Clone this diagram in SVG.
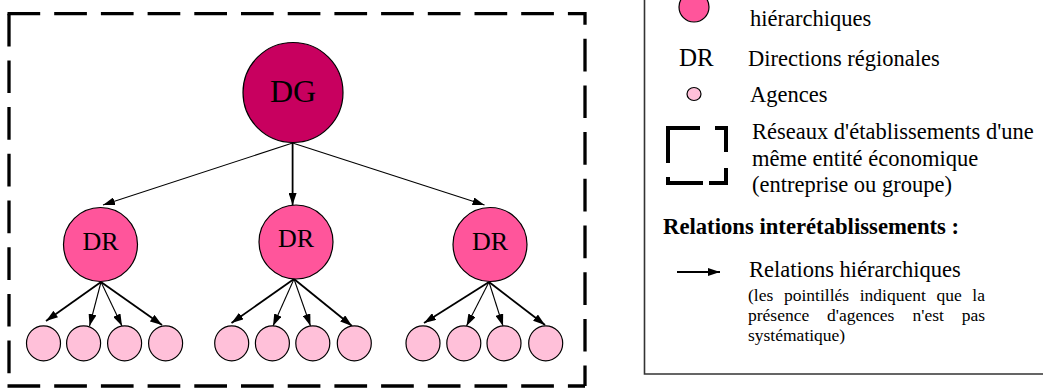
<svg xmlns="http://www.w3.org/2000/svg" width="1043" height="388" viewBox="0 0 1043 388">
<style>
text{font-family:"Liberation Serif","Times New Roman",serif;fill:#000}
.dg{fill:#C8005F;stroke:#000;stroke-width:1.2}
.dr{fill:#FF559B;stroke:#000;stroke-width:1.2}
.ag{fill:#FFC0D9;stroke:#000;stroke-width:1.2}
.bd{fill:none;stroke:#000;stroke-width:3.3;stroke-dasharray:32.7 14}
.c1{fill:none;stroke:#000;stroke-width:1.1}
.c2{fill:none;stroke:#000;stroke-width:1.8}
.lg{font-size:22.5px}
.sm{font-size:17.5px}
</style>
<defs>
<marker id="ah" viewBox="0 0 12 8" refX="12" refY="4" markerWidth="12" markerHeight="8" markerUnits="userSpaceOnUse" orient="auto">
<path d="M0,0 L12,4 L0,8 Z" fill="#000"/>
</marker>
</defs>

<g id="frame">
<path class="bd" d="M7.5,13.7 H585"/>
<path class="bd" d="M9,13.7 V386"/>
<path class="bd" d="M7.5,386 H585"/>
<path class="bd" d="M585,12 V386" style="stroke-dashoffset:20"/>
</g>

<g id="connectors">
<path class="c1" d="M292.6,143 L103,205" marker-end="url(#ah)"/>
<path class="c2" d="M292.6,143 L292.6,205" marker-end="url(#ah)"/>
<path class="c1" d="M292.6,143 L484.5,205" marker-end="url(#ah)"/>
<path class="c2" d="M101,282 L46,321" marker-end="url(#ah)"/>
<path class="c1" d="M101,282 L89.5,326" marker-end="url(#ah)"/>
<path class="c1" d="M101,282 L122,326" marker-end="url(#ah)"/>
<path class="c2" d="M101,282 L162,325" marker-end="url(#ah)"/>
<path class="c2" d="M294,279 L231.5,323" marker-end="url(#ah)"/>
<path class="c1" d="M294,279 L273,326" marker-end="url(#ah)"/>
<path class="c1" d="M294,279 L310.5,326" marker-end="url(#ah)"/>
<path class="c2" d="M294,279 L352,326" marker-end="url(#ah)"/>
<path class="c2" d="M489,282 L424,323" marker-end="url(#ah)"/>
<path class="c1" d="M489,282 L466.5,326" marker-end="url(#ah)"/>
<path class="c1" d="M489,282 L503,326" marker-end="url(#ah)"/>
<path class="c2" d="M489,282 L545,325" marker-end="url(#ah)"/>
</g>

<g id="dg"><ellipse class="dg" cx="293" cy="92.5" rx="50" ry="50"/><text x="293" y="102" font-size="32" text-anchor="middle">DG</text></g>

<g id="dr1"><ellipse class="dr" cx="100.5" cy="244.5" rx="37" ry="37"/><text x="100.5" y="249.5" font-size="26" text-anchor="middle">DR</text></g>
<g id="dr2"><ellipse class="dr" cx="296" cy="242" rx="37" ry="37"/><text x="296" y="247" font-size="26" text-anchor="middle">DR</text></g>
<g id="dr3"><ellipse class="dr" cx="490" cy="244.5" rx="37" ry="37"/><text x="490" y="249.5" font-size="26" text-anchor="middle">DR</text></g>

<g id="ag1"><ellipse class="ag" cx="43.5" cy="343.3" rx="17" ry="17.5"/></g>
<g id="ag2"><ellipse class="ag" cx="83.6" cy="343.3" rx="17" ry="17.5"/></g>
<g id="ag3"><ellipse class="ag" cx="124.6" cy="343.3" rx="17" ry="17.5"/></g>
<g id="ag4"><ellipse class="ag" cx="165.6" cy="343.3" rx="17" ry="17.5"/></g>
<g id="ag5"><ellipse class="ag" cx="231.7" cy="343.3" rx="17" ry="17.5"/></g>
<g id="ag6"><ellipse class="ag" cx="272.4" cy="343.3" rx="17" ry="17.5"/></g>
<g id="ag7"><ellipse class="ag" cx="312.8" cy="343.3" rx="17" ry="17.5"/></g>
<g id="ag8"><ellipse class="ag" cx="354.3" cy="343.3" rx="17" ry="17.5"/></g>
<g id="ag9"><ellipse class="ag" cx="423" cy="343.3" rx="17" ry="17.5"/></g>
<g id="ag10"><ellipse class="ag" cx="463.8" cy="343.3" rx="17" ry="17.5"/></g>
<g id="ag11"><ellipse class="ag" cx="504" cy="343.3" rx="17" ry="17.5"/></g>
<g id="ag12"><ellipse class="ag" cx="545.7" cy="343.3" rx="17" ry="17.5"/></g>

<g id="legend">
<path d="M644.5,0 V374 H1043" fill="none" stroke="#333" stroke-width="1.6"/>
<ellipse class="dr" cx="694" cy="7" rx="15" ry="15"/>
<text class="lg" x="750" y="26">hiérarchiques</text>
<text x="679" y="66" font-size="25">DR</text>
<text class="lg" x="748" y="66">Directions régionales</text>
<ellipse class="ag" cx="694" cy="94" rx="7" ry="6.5"/>
<text class="lg" x="750" y="102">Agences</text>
<g fill="none" stroke="#000" stroke-width="4" stroke-linejoin="miter">
<path d="M668,163 V128 H700"/>
<path d="M715,128 H726 V152"/>
<path d="M726,168 V183 H709"/>
<path d="M703,183 H668 V177"/>
</g>
<text class="lg" x="752" y="139">Réseaux d'établissements d'une</text>
<text class="lg" x="752" y="165.5">même entité économique</text>
<text class="lg" x="752" y="192">(entreprise ou groupe)</text>
<text x="663" y="234" font-size="22.7" font-weight="bold">Relations interétablissements :</text>
<path d="M677,272 H720" fill="none" stroke="#000" stroke-width="2" marker-end="url(#ah)"/>
<text class="lg" x="749" y="277">Relations hiérarchiques</text>
<text class="sm" y="301"><tspan x="748">(les</tspan><tspan x="784">pointillés</tspan><tspan x="859.7">indiquent</tspan><tspan x="936.4">que</tspan><tspan x="985" text-anchor="end">la</tspan></text>
<text class="sm" y="321"><tspan x="748">présence</tspan><tspan x="827">d'agences</tspan><tspan x="912.5">n'est</tspan><tspan x="985" text-anchor="end">pas</tspan></text>
<text class="sm" x="748" y="341">systématique)</text>
</g>
</svg>
